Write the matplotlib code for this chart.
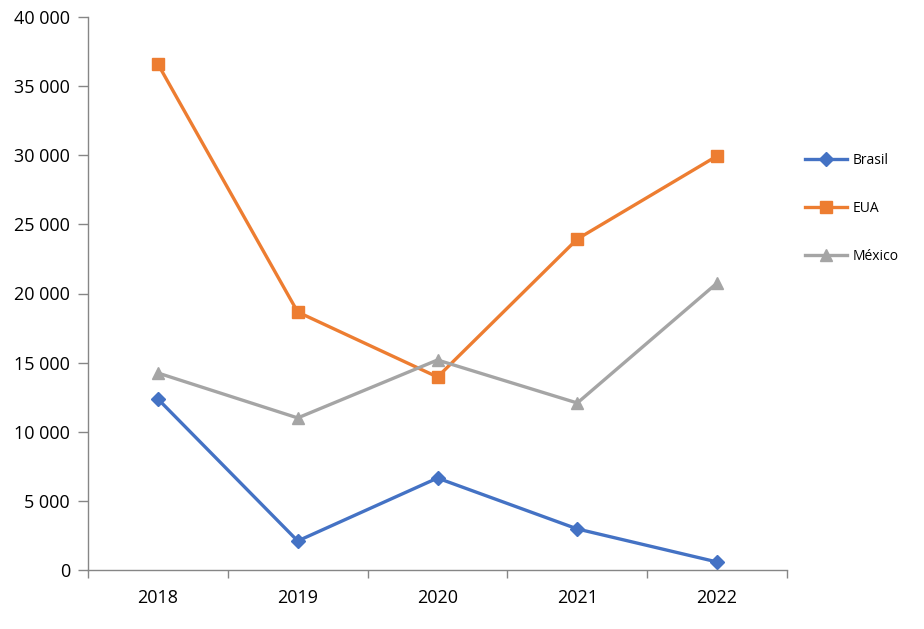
import matplotlib
matplotlib.use("Agg")
import matplotlib.pyplot as plt
from matplotlib.ticker import FuncFormatter, FixedLocator

years = ["2018", "2019", "2020", "2021", "2022"]
brasil = [12370, 2100, 6650, 2970, 580]
eua = [36600, 18660, 13960, 23940, 29950]
mexico = [14250, 11000, 15190, 12080, 20760]

fig = plt.figure(figsize=(9.24, 6.29), dpi=100)
ax = fig.add_axes([88/924, 59/629, (787-88)/924, (570-17)/629])

x = list(range(len(years)))
ax.plot(x, brasil, color="#4472C4", lw=2.4, marker="D", ms=7, label="Brasil")
ax.plot(x, eua, color="#ED7D31", lw=2.4, marker="s", ms=8, label="EUA")
ax.plot(x, mexico, color="#A5A5A5", lw=2.4, marker="^", ms=8.5, label="México")

ax.set_xlim(-0.5, 4.5)
ax.set_ylim(0, 40000)
ax.set_yticks(range(0, 40001, 5000))
ax.yaxis.set_major_formatter(FuncFormatter(lambda v, p: f"{int(v):,}".replace(",", " ")))
ax.set_xticks(x)
ax.set_xticklabels(years)
ax.xaxis.set_minor_locator(FixedLocator([-0.5, 0.5, 1.5, 2.5, 3.5, 4.5]))
ax.tick_params(axis="x", which="major", length=0, pad=14, labelsize=13)
ax.tick_params(axis="x", which="minor", length=6, color="#868686", width=1)
ax.tick_params(axis="y", length=7, color="#868686", width=1, labelsize=13, pad=6)

for s in ["top", "right"]:
    ax.spines[s].set_visible(False)
for s in ["left", "bottom"]:
    ax.spines[s].set_color("#868686")
    ax.spines[s].set_linewidth(1)

for lab in ax.get_xticklabels() + ax.get_yticklabels():
    lab.set_fontfamily("Open Sans")

leg = fig.legend(loc="upper left", bbox_to_anchor=(798/924, 1 - 146/629), frameon=False,
                 prop={"family": "Open Sans", "size": 10}, labelspacing=2.38,
                 handlelength=3.0, handletextpad=0.4, borderpad=0)

fig.savefig("out.png", dpi=100, facecolor="white")
